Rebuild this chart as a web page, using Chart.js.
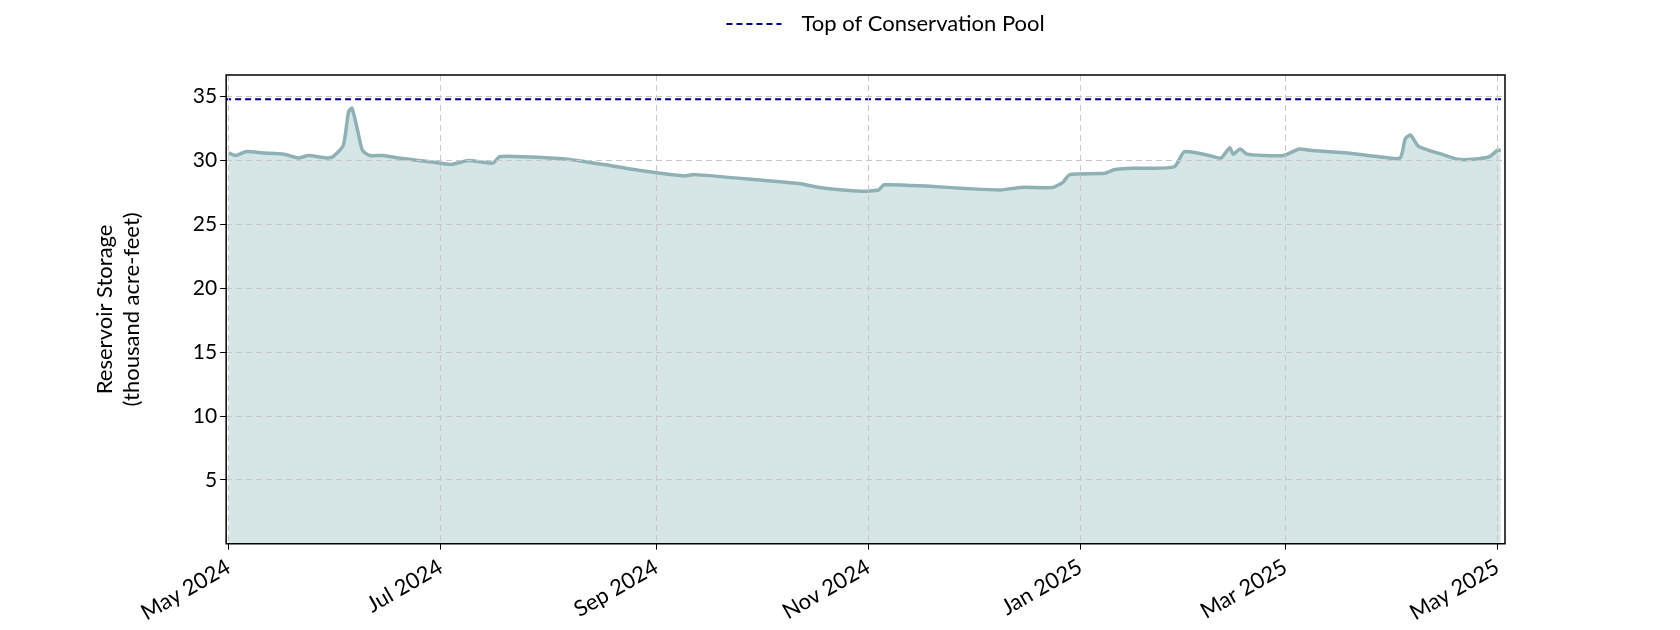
<!DOCTYPE html>
<html>
<head>
<meta charset="utf-8">
<script src="https://cdn.jsdelivr.net/npm/chart.js@4"></script>
<style>
  html, body { margin: 0; padding: 0; background: #fff; }
  #wrap { width: 1680px; height: 630px; }
</style>
</head>
<body>
<div id="wrap"><canvas id="storage-chart"></canvas></div>
<script>
// days since 2024-05-01
const days = [0, 2, 5, 10, 16, 20, 23, 28, 30, 33, 34.5, 35.5, 37, 38.5, 40.6, 44.5, 49, 58, 64, 69, 76, 78, 85,
  97.5, 110, 119, 131, 134, 152, 164, 170, 182, 187, 188.5, 200.6, 213, 222, 228, 237, 240, 242, 252, 255, 261,
  272, 275, 282, 285.5, 288, 289, 291, 293, 297.5, 303.6, 308, 311, 322, 331, 337, 338.5, 340, 342.4, 349,
  353.6, 358, 362.7, 365, 366]
// thousand acre-feet
const storage = [30.6, 30.4, 30.7, 30.6, 30.5, 30.2, 30.4, 30.2, 30.3, 31.2, 33.8, 34.1, 32.5, 30.8, 30.4, 30.4,
  30.2, 29.9, 29.7, 30.0, 29.8, 30.3, 30.3, 30.1, 29.6, 29.2, 28.8, 28.9, 28.5, 28.2, 27.9, 27.6, 27.7, 28.1,
  28.0, 27.8, 27.7, 27.9, 27.9, 28.3, 28.9, 29.0, 29.3, 29.4, 29.5, 30.7, 30.4, 30.2, 31.0, 30.5, 30.9, 30.5,
  30.4, 30.4, 30.9, 30.8, 30.6, 30.3, 30.2, 31.7, 32.0, 31.1, 30.5, 30.1, 30.1, 30.3, 30.8, 30.8]
const conservationPool = 34.8
const tickDays = [0, 61, 123, 184, 245, 304, 365]
const tickLabels = ['May 2024', 'Jul 2024', 'Sep 2024', 'Nov 2024', 'Jan 2025', 'Mar 2025', 'May 2025']

const FONT = 'Lato, "Open Sans", sans-serif'

// frame around the plot plus a dashed legend entry at the top
const framePlugin = {
  id: 'frame',
  afterDraw(chart) {
    const { ctx, chartArea: a } = chart
    ctx.save()
    ctx.strokeStyle = '#000'
    ctx.lineWidth = 1.5
    ctx.strokeRect(a.left, a.top, a.right - a.left, a.bottom - a.top)

    const cx = (a.left + a.right) / 2 + 20
    ctx.font = '22px ' + FONT
    const label = chart.data.datasets[1].label
    const w = ctx.measureText(label).width
    const x0 = cx - (55 + 20 + w) / 2
    const y0 = 24
    ctx.strokeStyle = '#00008b'
    ctx.lineWidth = 2
    ctx.setLineDash([6, 4])
    ctx.beginPath()
    ctx.moveTo(x0, y0)
    ctx.lineTo(x0 + 55, y0)
    ctx.stroke()
    ctx.fillStyle = '#000'
    ctx.textBaseline = 'middle'
    ctx.fillText(label, x0 + 75, y0)
    ctx.restore()
  },
}

new Chart(document.getElementById('storage-chart').getContext('2d'), {
  type: 'line',
  data: {
    datasets: [
      {
        label: 'Storage',
        data: days.map((d, i) => ({ x: d, y: storage[i] })),
        borderColor: '#8fb0b4',
        backgroundColor: '#d6e6e7',
        borderWidth: 3.5,
        fill: 'origin',
        pointRadius: 0,
        tension: 0.2,
      },
      {
        label: 'Top of Conservation Pool',
        data: [{ x: -1, y: conservationPool }, { x: 368, y: conservationPool }],
        borderColor: '#00008b',
        borderWidth: 2,
        borderDash: [6, 4],
        pointRadius: 0,
        fill: false,
      },
    ],
  },
  options: {
    responsive: true,
    maintainAspectRatio: false,
    animation: false,
    layout: { padding: { left: 88, right: 175, top: 75, bottom: 0 } },
    plugins: {
      legend: { display: false },
      tooltip: { enabled: false },
    },
    scales: {
      x: {
        type: 'linear',
        min: -0.7,
        max: 367.2,
        afterBuildTicks: (axis) => { axis.ticks = tickDays.map((v) => ({ value: v })) },
        ticks: {
          callback: (v) => tickLabels[tickDays.indexOf(v)],
          font: { family: FONT, size: 22 },
          color: '#000',
          maxRotation: 30,
          minRotation: 30,
          autoSkip: false,
          padding: 4,
        },
        grid: { color: '#c8c8c8', tickLength: 6, tickColor: '#000', z: 1 },
        border: { dash: [6, 4], display: false },
      },
      y: {
        min: 0,
        max: 36.7,
        afterBuildTicks: (axis) => { axis.ticks = [5, 10, 15, 20, 25, 30, 35].map((v) => ({ value: v })) },
        ticks: { font: { family: FONT, size: 21 }, color: '#000' },
        grid: { color: '#c8c8c8', tickLength: 6, tickColor: '#000', z: 1 },
        border: { dash: [6, 4], display: false },
        title: {
          display: true,
          text: ['Reservoir Storage', '(thousand acre-feet)'],
          font: { family: FONT, size: 22 },
          color: '#000',
          padding: { bottom: 45 },
        },
      },
    },
  },
  plugins: [framePlugin],
})
</script>
</body>
</html>
